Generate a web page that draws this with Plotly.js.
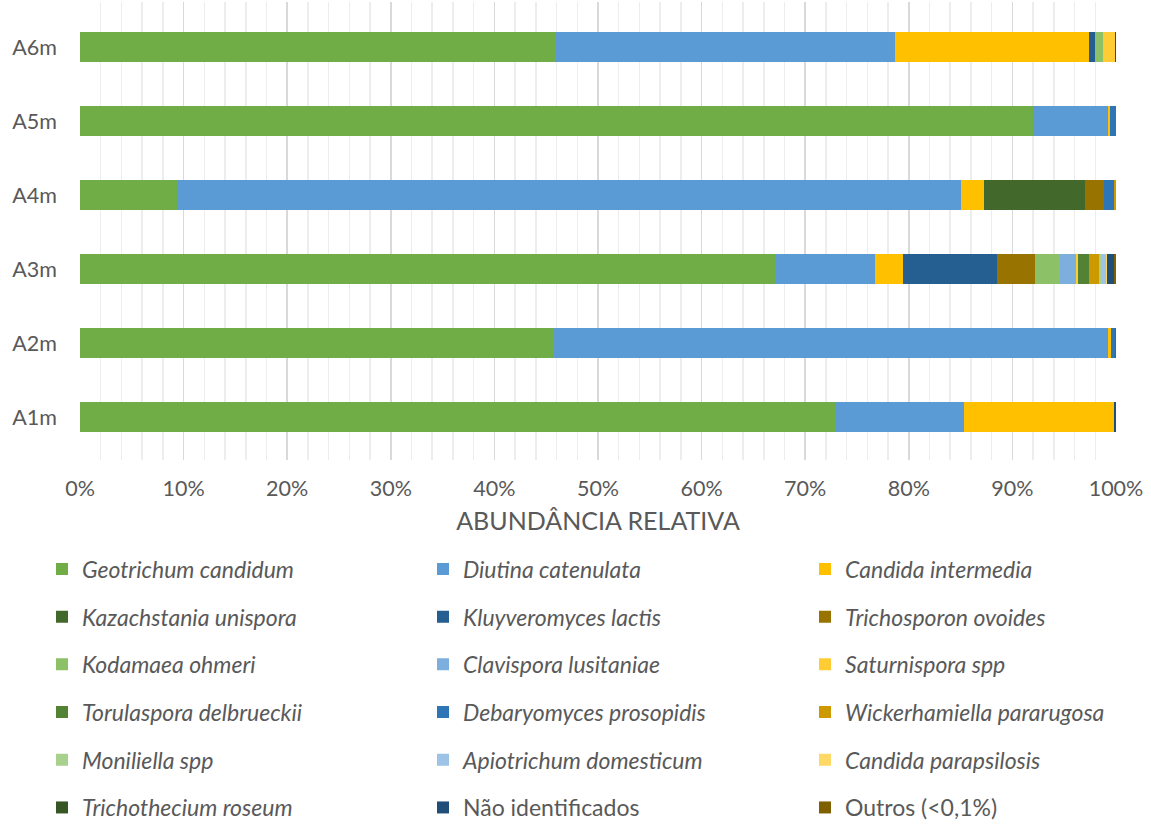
<!DOCTYPE html>
<html>
<head>
<meta charset="utf-8">
<script src="https://cdn.plot.ly/plotly-3.0.1.min.js"></script>
<style>html,body{margin:0;padding:0;background:#fff;}#chart{width:1151px;height:825px;}</style>
</head>
<body>
<div id="chart"></div>
<script>
var categories = ['A1m','A2m','A3m','A4m','A5m','A6m'];
var xTickVals = [0,10,20,30,40,50,60,70,80,90,100];
var xTickText = ['0%','10%','20%','30%','40%','50%','60%','70%','80%','90%','100%'];
var axisTitle = 'ABUNDÂNCIA RELATIVA';

var speciesNames = [
  '<i>Geotrichum candidum</i>', '<i>Diutina catenulata</i>', '<i>Candida intermedia</i>',
  '<i>Kazachstania unispora</i>', '<i>Kluyveromyces lactis</i>', '<i>Trichosporon ovoides</i>',
  '<i>Kodamaea ohmeri</i>', '<i>Clavispora lusitaniae</i>', '<i>Saturnispora spp</i>',
  '<i>Torulaspora delbrueckii</i>', '<i>Debaryomyces prosopidis</i>', '<i>Wickerhamiella pararugosa</i>',
  '<i>Moniliella spp</i>', '<i>Apiotrichum domesticum</i>', '<i>Candida parapsilosis</i>',
  '<i>Trichothecium roseum</i>', 'Não identificados', 'Outros (<0,1%)'
];

var speciesColors = [
  '#70AD47', '#5B9BD5', '#FFC000',
  '#43682B', '#255E91', '#997300',
  '#8CC168', '#7CAFDD', '#FFCD33',
  '#548235', '#2E75B6', '#CC9A00',
  '#A9D18E', '#9DC3E6', '#FFD966',
  '#375623', '#1F4E79', '#7F6000'
];

// values per sample, order A1m..A6m (%)
var geotrichum      = [72.9, 45.8, 67.1,  9.4, 92.0, 45.9];
var diutina         = [12.4, 53.4,  9.6, 75.6,  7.2, 32.8];
var candidaInterm   = [14.5,  0.3,  2.7,  2.3,  0.2, 18.7];
var kazachstania    = [0, 0, 0,    9.7, 0, 0];
var kluyveromyces   = [0, 0, 9.1,  0,   0, 0.6];
var trichosporon    = [0, 0, 3.7,  1.8, 0, 0];
var kodamaea        = [0, 0, 2.35, 0,   0, 0.7];
var clavispora      = [0, 0, 1.6,  0,   0, 0];
var saturnispora    = [0, 0, 0.15, 0,   0, 1.2];
var torulaspora     = [0, 0, 1.1,  0,   0, 0];
var debaryomyces    = [0, 0.4, 0,  1.0, 0.6, 0];
var wickerhamiella  = [0, 0, 1.0,  0.2, 0, 0];
var moniliella      = [0, 0, 0.2,  0,   0, 0];
var apiotrichum     = [0, 0, 0.4,  0,   0, 0];
var candidaParaps   = [0, 0, 0.15, 0,   0, 0];
var trichothecium   = [0, 0, 0,    0,   0, 0];
var naoIdentif      = [0.2, 0, 0.7, 0,  0, 0.1];
var outros          = [0, 0.1, 0.15, 0, 0, 0];

var seriesValues = [geotrichum, diutina, candidaInterm, kazachstania, kluyveromyces, trichosporon,
  kodamaea, clavispora, saturnispora, torulaspora, debaryomyces, wickerhamiella,
  moniliella, apiotrichum, candidaParaps, trichothecium, naoIdentif, outros];

var W = 1151, H = 825;
var mL = 80, mR = 35, mT = 2, mB = 365;
var plotW = W - mL - mR, plotH = H - mT - mB;
function px2x(px){ return (px - mL) / plotW; }
function py2y(py){ return 1 - (py - mT) / plotH; }

var FONT = 'Lato, "Open Sans", sans-serif';
var TXT = '#595959';

var legendKeys = ['legend','legend2','legend3'];
var traces = seriesValues.map(function(vals, i){
  return {
    type: 'bar', orientation: 'h',
    name: speciesNames[i],
    x: vals, y: categories,
    width: 0.405,
    marker: {color: speciesColors[i], line: {width: 0}},
    legend: legendKeys[i % 3],
    legendgroup: 'g' + i,
    hoverinfo: 'name+x'
  };
});

var legendBase = {
  orientation: 'v', yanchor: 'top', xanchor: 'left',
  font: {family: FONT, size: 23, color: TXT},
  bgcolor: 'rgba(0,0,0,0)', borderwidth: 0,
  tracegroupgap: 14.8, traceorder: 'grouped'
};
var legTop = py2y(547.5);
var layout = {
  width: W, height: H,
  margin: {l: mL, r: mR, t: mT, b: mB, pad: 0, autoexpand: false},
  paper_bgcolor: '#ffffff', plot_bgcolor: '#ffffff',
  barmode: 'stack', bargap: 0.6,
  font: {family: FONT, size: 21, color: TXT},
  xaxis: {
    range: [0, 100], tickvals: xTickVals, ticktext: xTickText,
    showgrid: true, gridcolor: '#D9D9D9', gridwidth: 1.5,
    minor: {dtick: 2, showgrid: true, gridcolor: '#EDEDED', gridwidth: 1.5},
    zeroline: false, showline: false, ticks: '',
    tickfont: {family: FONT, size: 21.5, color: TXT},
    ticklabelstandoff: 13,
    title: {text: axisTitle, font: {family: FONT, size: 25, color: TXT}, standoff: 12},
    fixedrange: true, automargin: false
  },
  yaxis: {
    type: 'category', categoryorder: 'array', categoryarray: categories,
    range: [-0.58, 5.61],
    showgrid: false, zeroline: false, showline: false, ticks: '',
    tickfont: {family: FONT, size: 21.5, color: TXT},
    ticklabelstandoff: 22,
    fixedrange: true, automargin: false
  },
  showlegend: true,
  legend: Object.assign({}, legendBase, {x: px2x(42), y: legTop}),
  legend2: Object.assign({}, legendBase, {x: px2x(423), y: legTop}),
  legend3: Object.assign({}, legendBase, {x: px2x(805), y: legTop})
};

Plotly.newPlot('chart', traces, layout, {displayModeBar: false, staticPlot: true});
</script>
</body>
</html>
